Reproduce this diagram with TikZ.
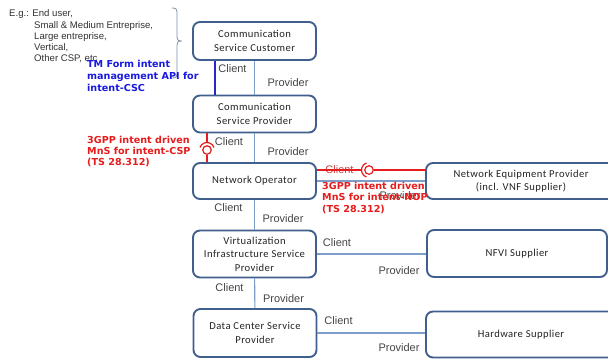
\documentclass[tikz,border=0pt]{standalone}
\usepackage{fontspec}
\setmainfont{Liberation Sans}
\newfontfamily\boxfont{Carlito}[LetterSpace=4]
\newfontfamily\notefont{DejaVu Sans}
\definecolor{boxline}{RGB}{65,95,140}
\definecolor{linkc}{RGB}{125,158,200}
\definecolor{lblc}{RGB}{70,70,70}
\definecolor{txtc}{RGB}{35,35,35}
\definecolor{noteblue}{RGB}{25,25,225}
\definecolor{notered}{RGB}{232,28,28}
\definecolor{bluelinec}{RGB}{40,40,200}
\definecolor{bracec}{RGB}{130,145,170}
\definecolor{leftc}{RGB}{50,50,50}
\begin{document}
\begin{tikzpicture}[x=1pt,y=-1pt,
  actor/.style={draw=boxline, line width=1.9pt, rounded corners=7pt, fill=white,
    align=center, font=\boxfont\fontsize{10.6}{13.5}\selectfont, text=txtc, inner sep=0pt},
  lab/.style={font=\fontsize{11}{13}\selectfont, text=lblc, inner sep=0pt},
  link/.style={draw=linkc, line width=1.1pt},
  blueln/.style={draw=bluelinec, line width=1.1pt},
  redln/.style={draw=notered, line width=1.2pt},
  ball/.style={circle, draw=notered, line width=1.2pt, fill=white, minimum size=8.5pt, inner sep=0pt},
  bnote/.style={font=\notefont\bfseries\fontsize{9.6}{12}\selectfont, text=noteblue, inner sep=0pt, anchor=base west},
  rnote/.style={font=\notefont\bfseries\fontsize{9.6}{12}\selectfont, text=notered, inner sep=0pt, anchor=base west},
  ltext/.style={font=\fontsize{9.6}{11}\selectfont, text=leftc, inner sep=0pt, anchor=west}
]
\clip (0,0) rectangle (608,360);
\fill[white] (0,0) rectangle (608,360);

% left example text
\node[ltext] (eg1) at (9,14) {E.g.: End user,};
\node[ltext] (eg2) at (34,26) {Small \& Medium Entreprise,};
\node[ltext] (eg3) at (34,37) {Large entreprise,};
\node[ltext] (eg4) at (34,48) {Vertical,};
\node[ltext] (eg5) at (34,59) {Other CSP, etc};

% brace
\draw[bracec, line width=0.8pt] (172,8) .. controls (176,8) and (177,9) .. (177,12) -- (177,37)
  .. controls (177,40) and (178,41) .. (182,41) .. controls (178,41) and (177,42) .. (177,45)
  -- (177,74) .. controls (177,77) and (176,78) .. (172,78);

% actor boxes
\node[actor, minimum width=123pt, minimum height=38pt] (csc) at (254.5,41) {Communication\\Service Customer};
\node[actor, minimum width=123pt, minimum height=37pt] (csp) at (254.5,114) {Communication\\Service Provider};
\node[actor, minimum width=123pt, minimum height=36pt] (no) at (254.5,181) {Network Operator};
\node[actor, minimum width=123pt, minimum height=47pt] (visp) at (254.5,254) {Virtualization\\Infrastructure Service\\Provider};
\node[actor, minimum width=123pt, minimum height=48pt] (dc) at (255,333) {Data Center Service\\Provider};
\node[actor, minimum width=190pt, minimum height=36pt] (nep) at (521,181) {Network Equipment Provider\\(incl. VNF Supplier)};
\node[actor, minimum width=180pt, minimum height=47pt] (nfvi) at (517,253.5) {NFVI Supplier};
\node[actor, minimum width=190pt, minimum height=46pt] (hw) at (521,334.5) {Hardware Supplier};

% client/provider links
\draw[link] (csc) -- (csp);
\draw[link] (csp) -- (no);
\draw[link] (no) -- (visp);
\draw[link] (visp) -- (dc);
\draw[link] (no) -- (nep);
\draw[link] (visp.east) -- (nfvi.west |- visp.east);
\draw[link] (dc.east) -- (hw.west |- dc.east);

% labels
\node[lab] (c1) at (232.5,69) {Client};
\node[lab] (p1) at (288,83) {Provider};
\node[lab] (c2) at (229,142) {Client};
\node[lab] (p2) at (288,152) {Provider};
\node[lab] (c3) at (228.5,208) {Client};
\node[lab] (p3) at (283,219) {Provider};
\node[lab] (c4) at (229.5,288) {Client};
\node[lab] (p4) at (283.5,299) {Provider};
\node[lab, text={rgb,255:red,200;green,70;blue,70}] (c5) at (339.5,170) {Client};
\node[lab] (p5) at (400,196) {Provider};
\node[lab] (c6) at (337,243) {Client};
\node[lab] (p6) at (399,271) {Provider};
\node[lab] (c7) at (338.5,321) {Client};
\node[lab] (p7) at (399,348) {Provider};

% TM Forum intent API (blue)
\coordinate (bx) at (215,0);
\draw[blueln] (csc.south -| bx) -- (csp.north -| bx);

% 3GPP intent-CSP interface (vertical ball and socket)
\coordinate (rb) at (207,150);
\draw[redln, shorten >=7.5pt] (csp.south -| rb) -- (rb);
\draw[redln] (rb) ++(200:7.5) arc[start angle=200, end angle=340, radius=7.5];
\node[ball] (balla) at (rb) {};
\draw[redln] (balla) -- (no.north -| rb);

% 3GPP intent-NOP interface (horizontal ball and socket)
\coordinate (hb) at (369,170);
\draw[redln, shorten >=7.5pt] (no.east |- hb) -- (hb);
\draw[redln] (hb) ++(110:7.5) arc[start angle=110, end angle=250, radius=7.5];
\node[ball] (ballb) at (hb) {};
\draw[redln] (ballb) -- (nep.west |- hb);

% notes
\node[bnote] (b1) at (87,67) {TM Form intent};
\node[bnote] (b2) at (87,79) {management API for};
\node[bnote] (b3) at (87,91) {intent-CSC};
\node[rnote] (r1) at (87,143) {3GPP intent driven};
\node[rnote] (r2) at (87,154.5) {MnS for intent-CSP};
\node[rnote] (r3) at (87,165.5) {(TS 28.312)};
\node[rnote] (s1) at (322,189) {3GPP intent driven};
\node[rnote] (s2) at (322,200.5) {MnS for intent-NOP};
\node[rnote] (s3) at (322,212) {(TS 28.312)};
\end{tikzpicture}
\end{document}
